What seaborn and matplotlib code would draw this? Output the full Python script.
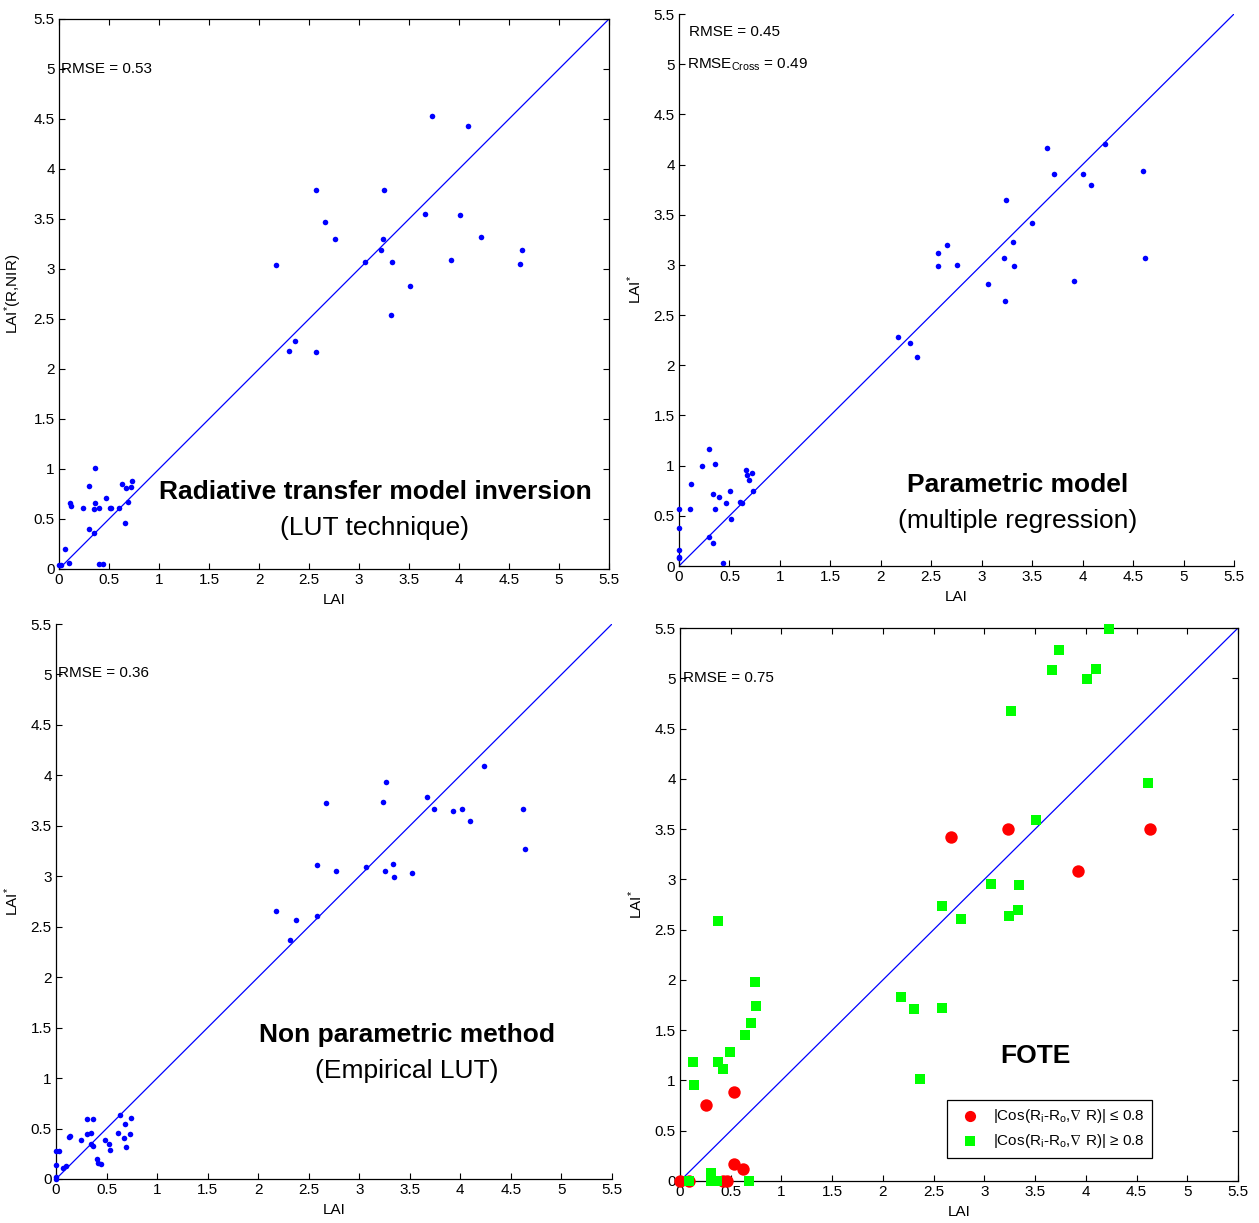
import matplotlib
matplotlib.use("Agg")
import matplotlib.pyplot as plt
import seaborn as sns
import pandas as pd

# ---------------- data ----------------
TICKS = [0, 0.5, 1, 1.5, 2, 2.5, 3, 3.5, 4, 4.5, 5, 5.5]
TICK_LABELS = ["0", "0.5", "1", "1.5", "2", "2.5", "3", "3.5", "4", "4.5", "5", "5.5"]

# Panel 1: Radiative transfer model inversion (LUT technique)
p1_x = [3.73, 4.09, 2.57, 3.25, 2.66, 2.76, 3.66, 4.01, 3.24, 3.22, 4.22, 2.17, 3.06, 3.33,
        3.92, 4.63, 4.61, 3.51, 3.32, 2.36, 2.30, 2.57,
        0.00, 0.02, 0.06, 0.10, 0.11, 0.12, 0.24, 0.30, 0.30, 0.36, 0.36, 0.35, 0.35, 0.40,
        0.40, 0.44, 0.47, 0.51, 0.52, 0.60, 0.63, 0.66, 0.67, 0.69, 0.72, 0.73]
p1_y = [4.53, 4.43, 3.79, 3.79, 3.47, 3.30, 3.55, 3.54, 3.30, 3.19, 3.32, 3.04, 3.07, 3.07,
        3.09, 3.19, 3.05, 2.83, 2.54, 2.28, 2.18, 2.17,
        0.04, 0.04, 0.20, 0.06, 0.66, 0.63, 0.61, 0.83, 0.40, 1.01, 0.66, 0.60, 0.36, 0.61,
        0.05, 0.05, 0.71, 0.61, 0.61, 0.61, 0.85, 0.46, 0.81, 0.67, 0.82, 0.88]

# Panel 2: Parametric model (multiple regression)
p2_x = [3.65, 4.22, 3.72, 4.00, 4.08, 4.60, 3.24, 3.50, 3.31, 2.66, 2.57, 2.57, 2.75, 3.22,
        3.32, 4.62, 3.06, 3.91, 3.23, 2.17, 2.29, 2.36,
        0.00, 0.00, 0.00, 0.00, 0.00, 0.11, 0.12, 0.23, 0.30, 0.30, 0.36, 0.34, 0.40, 0.36,
        0.34, 0.44, 0.47, 0.51, 0.52, 0.60, 0.62, 0.66, 0.67, 0.69, 0.72, 0.73]
p2_y = [4.16, 4.20, 3.91, 3.91, 3.80, 3.94, 3.65, 3.42, 3.23, 3.20, 3.12, 2.99, 3.00, 3.07,
        2.99, 3.07, 2.81, 2.84, 2.64, 2.28, 2.22, 2.08,
        0.57, 0.38, 0.16, 0.09, 0.08, 0.57, 0.82, 1.00, 1.17, 0.29, 1.02, 0.72, 0.69, 0.57,
        0.23, 0.03, 0.63, 0.75, 0.47, 0.64, 0.63, 0.96, 0.91, 0.86, 0.93, 0.75]

# Panel 3: Non parametric method (Empirical LUT)
p3_x = [4.23, 3.26, 2.67, 3.23, 3.67, 3.74, 3.93, 4.02, 4.10, 4.62, 4.64, 2.58, 2.77, 3.07,
        3.25, 3.33, 3.34, 3.52, 2.18, 2.37, 2.58, 2.31,
        0.00, 0.00, 0.00, 0.00, 0.03, 0.07, 0.10, 0.13, 0.14, 0.25, 0.31, 0.31, 0.37, 0.35,
        0.35, 0.37, 0.41, 0.42, 0.45, 0.48, 0.52, 0.53, 0.61, 0.63, 0.67, 0.68, 0.69, 0.73, 0.74]
p3_y = [4.09, 3.93, 3.73, 3.74, 3.79, 3.67, 3.65, 3.67, 3.55, 3.67, 3.27, 3.11, 3.05, 3.09,
        3.05, 3.12, 2.99, 3.03, 2.66, 2.57, 2.61, 2.37,
        0.00, 0.02, 0.14, 0.28, 0.28, 0.11, 0.13, 0.42, 0.43, 0.39, 0.59, 0.45, 0.59, 0.46,
        0.35, 0.33, 0.20, 0.16, 0.15, 0.39, 0.35, 0.29, 0.46, 0.63, 0.41, 0.55, 0.32, 0.45, 0.60]

# Panel 4: FOTE
p4_red_x = [2.67, 3.23, 4.63, 3.92, 0.53, 0.26, 0.53, 0.62, 0.00, 0.09, 0.42, 0.46]
p4_red_y = [3.42, 3.50, 3.50, 3.08, 0.89, 0.76, 0.17, 0.12, 0.00, 0.00, 0.00, 0.00]
p4_green_x = [4.23, 3.74, 3.67, 4.10, 4.01, 3.26, 4.61, 3.51, 3.07, 3.34, 2.58, 2.77, 3.24,
              3.33, 2.18, 2.31, 2.58, 2.37,
              0.37, 0.74, 0.75, 0.70, 0.64, 0.49, 0.37, 0.42, 0.13, 0.14, 0.31, 0.31, 0.36,
              0.09, 0.68]
p4_green_y = [5.49, 5.28, 5.08, 5.09, 4.99, 4.67, 3.96, 3.59, 2.95, 2.94, 2.74, 2.61, 2.64,
              2.70, 1.83, 1.71, 1.72, 1.01,
              2.59, 1.98, 1.74, 1.57, 1.45, 1.28, 1.18, 1.11, 1.18, 0.95, 0.08, 0.00, 0.00,
              0.00, 0.00]

# ---------------- style ----------------
sns.set_style("ticks")
plt.rcParams["font.family"] = ["Liberation Sans", "DejaVu Sans"]
plt.rcParams["mathtext.fontset"] = "custom"
plt.rcParams["mathtext.rm"] = "Liberation Sans"
plt.rcParams["mathtext.it"] = "Liberation Sans:italic"
plt.rcParams["mathtext.bf"] = "Liberation Sans:bold"
plt.rcParams["mathtext.fallback"] = "stixsans"
plt.rcParams["xtick.direction"] = "in"
plt.rcParams["ytick.direction"] = "in"
plt.rcParams["text.color"] = "black"
plt.rcParams["axes.labelcolor"] = "black"
plt.rcParams["xtick.color"] = "black"
plt.rcParams["ytick.color"] = "black"

W, H = 1259, 1223
fig = plt.figure(figsize=(W / 100, H / 100), dpi=100)


def mk_axes(l, t, r, b):
    return fig.add_axes([l / W, 1 - b / H, (r - l) / W, (b - t) / H])


FS = 11
BIG = 19


def setup(ax, box, ylabel):
    ax.set_xlim(0, 5.5)
    ax.set_ylim(0, 5.5)
    ax.axline((0, 0), slope=1, color="blue", lw=0.9, zorder=1)
    ax.set_xticks(TICKS, TICK_LABELS)
    ax.set_yticks(TICKS, TICK_LABELS)
    ax.tick_params(labelsize=FS, length=4.5, width=0.8, colors="black", pad=3,
                   top=box, right=box)
    for s in ["left", "bottom"]:
        ax.spines[s].set_color("black")
        ax.spines[s].set_linewidth(0.9)
    for s in ["top", "right"]:
        ax.spines[s].set_visible(box)
        ax.spines[s].set_color("black")
        ax.spines[s].set_linewidth(0.9)
    ax.set_xlabel("LAI", fontsize=FS, labelpad=4, color="black")
    ax.set_ylabel(ylabel, fontsize=FS, labelpad=7, color="black")
    ax.grid(False)


def dots(ax, xs, ys):
    df = pd.DataFrame({"x": xs, "y": ys})
    sns.scatterplot(data=df, x="x", y="y", ax=ax, color="blue", s=16, linewidth=0,
                    clip_on=False, zorder=3)


# Panel 1
ax1 = mk_axes(59, 19, 609, 569)
dots(ax1, p1_x, p1_y)
setup(ax1, True, r"LAI$^{*}$(R,NIR)")
ax1.text(0.02, 5.0, "RMSE = 0.53", fontsize=FS, va="center", ha="left")
ax1.text(3.16, 0.77, "Radiative transfer model inversion", fontsize=BIG, fontweight="bold",
         ha="center", va="center")
ax1.text(3.16, 0.41, "(LUT technique)", fontsize=BIG, ha="center", va="center")

# Panel 2
ax2 = mk_axes(679, 14, 1234, 566)
dots(ax2, p2_x, p2_y)
setup(ax2, False, r"LAI$^{*}$")
ax2.text(0.10, 5.32, "RMSE = 0.45", fontsize=FS, va="center", ha="left")
ax2.text(0.08, 4.99, r"RMSE$_{\mathrm{Cross}}$ = 0.49", fontsize=FS, va="center", ha="left")
ax2.text(3.36, 0.81, "Parametric model", fontsize=BIG, fontweight="bold",
         ha="center", va="center")
ax2.text(3.36, 0.45, "(multiple regression)", fontsize=BIG, ha="center", va="center")

# Panel 3
ax3 = mk_axes(56, 624, 612, 1179)
dots(ax3, p3_x, p3_y)
setup(ax3, False, r"LAI$^{*}$")
ax3.text(0.02, 5.01, "RMSE = 0.36", fontsize=FS, va="center", ha="left")
ax3.text(3.47, 1.43, "Non parametric method", fontsize=BIG, fontweight="bold",
         ha="center", va="center")
ax3.text(3.47, 1.07, "(Empirical LUT)", fontsize=BIG, ha="center", va="center")

# Panel 4
ax4 = mk_axes(680, 628, 1238, 1181)
df_r = pd.DataFrame({"x": p4_red_x, "y": p4_red_y})
df_g = pd.DataFrame({"x": p4_green_x, "y": p4_green_y})
sns.scatterplot(data=df_r, x="x", y="y", ax=ax4, color="red", marker="o", s=80,
                linewidth=0, clip_on=False, zorder=3,
                label=r"|Cos(R$_{\mathrm{i}}$-R$_{\mathrm{o}}$,$\nabla$ R)| ≤ 0.8")
sns.scatterplot(data=df_g, x="x", y="y", ax=ax4, color="#00ff00", marker="s", s=62,
                linewidth=0, clip_on=False, zorder=4,
                label=r"|Cos(R$_{\mathrm{i}}$-R$_{\mathrm{o}}$,$\nabla$ R)| ≥ 0.8")
setup(ax4, True, r"LAI$^{*}$")
ax4.text(0.03, 5.0, "RMSE = 0.75", fontsize=FS, va="center", ha="left")
ax4.text(3.50, 1.24, "FOTE", fontsize=BIG, fontweight="bold", ha="center", va="center")
leg = ax4.legend(loc="lower left", bbox_to_anchor=(0.478, 0.042), fontsize=FS,
                 frameon=True, fancybox=False, edgecolor="black", framealpha=1,
                 borderpad=0.5, handletextpad=0.5, labelspacing=0.45, markerscale=0.9,
                 borderaxespad=0)
leg.get_frame().set_linewidth(0.9)
for t in leg.get_texts():
    t.set_color("black")

fig.savefig("out.png", dpi=100)
